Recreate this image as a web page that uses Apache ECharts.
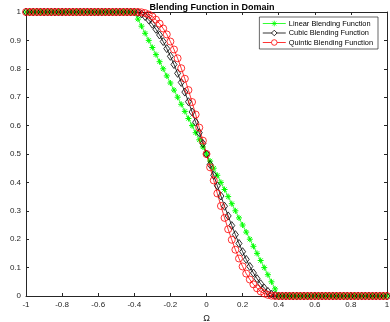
<!DOCTYPE html>
<html>
<head>
<meta charset="utf-8">
<script src="https://cdn.jsdelivr.net/npm/echarts@6/dist/echarts.min.js"></script>
<style>
  html, body { margin: 0; padding: 0; background: #fff; }
  #main { width: 390px; height: 322px; }
</style>
</head>
<body>
<div id="main"></div>
<script>
// x grid (Omega)
const omega = [
  -1, -0.98, -0.96, -0.94, -0.92, -0.9, -0.88, -0.86, -0.84, -0.82,
  -0.8, -0.78, -0.76, -0.74, -0.72, -0.7, -0.68, -0.66, -0.64, -0.62,
  -0.6, -0.58, -0.56, -0.54, -0.52, -0.5, -0.48, -0.46, -0.44, -0.42,
  -0.4, -0.38, -0.36, -0.34, -0.32, -0.3, -0.28, -0.26, -0.24, -0.22,
  -0.2, -0.18, -0.16, -0.14, -0.12, -0.1, -0.08, -0.06, -0.04, -0.02,
  0, 0.02, 0.04, 0.06, 0.08, 0.1, 0.12, 0.14, 0.16, 0.18,
  0.2, 0.22, 0.24, 0.26, 0.28, 0.3, 0.32, 0.34, 0.36, 0.38,
  0.4, 0.42, 0.44, 0.46, 0.48, 0.5, 0.52, 0.54, 0.56, 0.58,
  0.6, 0.62, 0.64, 0.66, 0.68, 0.7, 0.72, 0.74, 0.76, 0.78,
  0.8, 0.82, 0.84, 0.86, 0.88, 0.9, 0.92, 0.94, 0.96, 0.98,
  1
];
const linear = [
  1, 1, 1, 1, 1, 1, 1, 1, 1, 1,
  1, 1, 1, 1, 1, 1, 1, 1, 1, 1,
  1, 1, 1, 1, 1, 1, 1, 1, 1, 1,
  1, 0.975, 0.95, 0.925, 0.9, 0.875, 0.85, 0.825, 0.8, 0.775,
  0.75, 0.725, 0.7, 0.675, 0.65, 0.625, 0.6, 0.575, 0.55, 0.525,
  0.5, 0.475, 0.45, 0.425, 0.4, 0.375, 0.35, 0.325, 0.3, 0.275,
  0.25, 0.225, 0.2, 0.175, 0.15, 0.125, 0.1, 0.075, 0.05, 0.025,
  0, 0, 0, 0, 0, 0, 0, 0, 0, 0,
  0, 0, 0, 0, 0, 0, 0, 0, 0, 0,
  0, 0, 0, 0, 0, 0, 0, 0, 0, 0,
  0
];
const cubic = [
  1, 1, 1, 1, 1, 1, 1, 1, 1, 1,
  1, 1, 1, 1, 1, 1, 1, 1, 1, 1,
  1, 1, 1, 1, 1, 1, 1, 1, 1, 1,
  1, 0.998, 0.993, 0.984, 0.972, 0.957, 0.939, 0.919, 0.896, 0.871,
  0.844, 0.815, 0.784, 0.752, 0.718, 0.684, 0.648, 0.612, 0.575, 0.537,
  0.5, 0.463, 0.425, 0.388, 0.352, 0.316, 0.282, 0.248, 0.216, 0.185,
  0.156, 0.129, 0.104, 0.081, 0.061, 0.043, 0.028, 0.016, 0.007, 0.002,
  0, 0, 0, 0, 0, 0, 0, 0, 0, 0,
  0, 0, 0, 0, 0, 0, 0, 0, 0, 0,
  0, 0, 0, 0, 0, 0, 0, 0, 0, 0,
  0
];
const quintic = [
  1, 1, 1, 1, 1, 1, 1, 1, 1, 1,
  1, 1, 1, 1, 1, 1, 1, 1, 1, 1,
  1, 1, 1, 1, 1, 1, 1, 1, 1, 1,
  1, 1, 0.999, 0.996, 0.991, 0.984, 0.973, 0.959, 0.942, 0.921,
  0.896, 0.868, 0.837, 0.802, 0.765, 0.725, 0.683, 0.639, 0.593, 0.547,
  0.5, 0.453, 0.407, 0.361, 0.317, 0.275, 0.235, 0.198, 0.163, 0.132,
  0.104, 0.079, 0.058, 0.041, 0.027, 0.016, 0.009, 0.004, 0.001, 0,
  0, 0, 0, 0, 0, 0, 0, 0, 0, 0,
  0, 0, 0, 0, 0, 0, 0, 0, 0, 0,
  0, 0, 0, 0, 0, 0, 0, 0, 0, 0,
  0
];
const names = ['Linear Blending Function', 'Cubic Blending Function', 'Quintic Blending Function'];

const axisColor = '#262626';
const fontFamily = 'Liberation Sans, Arial, sans-serif';
const asterisk = 'path://M0,-1L0,1M-1,0L1,0M-0.7,-0.7L0.7,0.7M-0.7,0.7L0.7,-0.7';

function pairs (ys) {
  return omega.map((x, i) => [x, ys[i]]);
}

var myChart = echarts.init(document.getElementById('main'));

var boxAxis = {
  axisLine: { show: true, onZero: false, lineStyle: { color: axisColor, width: 1 } },
  axisTick: { show: true, inside: true, length: 3, lineStyle: { color: axisColor } },
  splitLine: { show: false }
};

var option = {
  animation: false,
  backgroundColor: '#fff',
  title: {
    text: 'Blending Function in Domain',
    left: 207,
    textAlign: 'center',
    top: -2,
    textStyle: { fontSize: 9, fontWeight: 'bold', color: '#000', fontFamily: fontFamily }
  },
  legend: {
    data: [
      { name: names[0] },
      { name: names[1], itemStyle: { color: '#fff' } },
      { name: names[2], itemStyle: { color: '#fff' } }
    ],
    orient: 'vertical',
    right: 12,
    top: 17,
    itemGap: 2.5,
    itemWidth: 23,
    itemHeight: 7,
    padding: [3, 5, 3, 3],
    borderColor: axisColor,
    borderWidth: 0.7,
    backgroundColor: '#fff',
    lineStyle: { width: 0.8 },
    itemStyle: { borderWidth: 0.8 },
    textStyle: { fontSize: 7.4, color: '#000', fontFamily: fontFamily, padding: [0, 0, 0, -2] }
  },
  grid: { left: 26, right: 3, top: 12, bottom: 26, containLabel: false, outerBoundsMode: 'none' },
  xAxis: [Object.assign({}, boxAxis, {
    type: 'value',
    min: -1,
    max: 1,
    interval: 0.2,
    name: 'Ω',
    nameLocation: 'middle',
    nameGap: 17,
    nameTextStyle: { fontSize: 9, color: axisColor, fontFamily: fontFamily },
    axisLabel: { fontSize: 8, color: axisColor, margin: 5, fontFamily: fontFamily }
  }), Object.assign({}, boxAxis, {
    type: 'value',
    position: 'top',
    min: -1,
    max: 1,
    interval: 0.2,
    axisLabel: { show: false }
  })],
  yAxis: [Object.assign({}, boxAxis, {
    type: 'value',
    min: 0,
    max: 1,
    interval: 0.1,
    name: 'Blending Function',
    nameLocation: 'middle',
    nameGap: 17,
    nameTextStyle: { fontSize: 9, color: axisColor, fontFamily: fontFamily },
    axisLabel: { fontSize: 8, color: axisColor, margin: 5, fontFamily: fontFamily }
  }), Object.assign({}, boxAxis, {
    type: 'value',
    position: 'right',
    min: 0,
    max: 1,
    interval: 0.1,
    axisLabel: { show: false }
  })],
  series: [{
    name: names[0],
    type: 'line',
    data: pairs(linear),
    symbol: asterisk,
    symbolSize: 6,
    showAllSymbol: true,
    lineStyle: { color: '#00ff00', width: 0.8 },
    itemStyle: { color: '#00ff00', borderColor: '#00ff00', borderWidth: 1 }
  }, {
    name: names[1],
    type: 'line',
    data: pairs(cubic),
    symbol: 'diamond',
    symbolSize: [6, 8],
    showAllSymbol: true,
    lineStyle: { color: '#000', width: 0.8 },
    itemStyle: { color: 'rgba(0,0,0,0)', borderColor: '#000', borderWidth: 0.8 }
  }, {
    name: names[2],
    type: 'line',
    data: pairs(quintic),
    symbol: 'circle',
    symbolSize: 7,
    showAllSymbol: true,
    lineStyle: { color: '#ff0000', width: 0.8 },
    itemStyle: { color: 'rgba(0,0,0,0)', borderColor: '#ff0000', borderWidth: 0.8 }
  }]
};

myChart.setOption(option);
</script>
</body>
</html>
